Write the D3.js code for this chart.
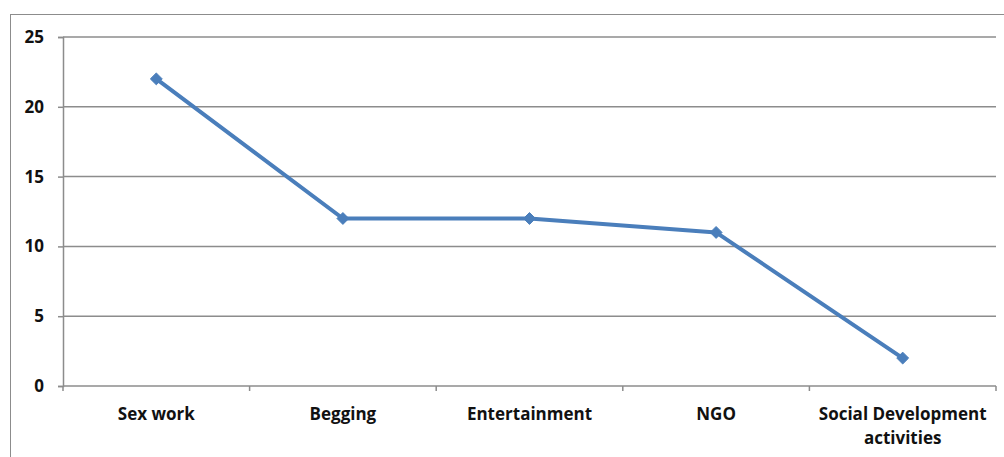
<!DOCTYPE html>
<html>
<head>
<meta charset="utf-8">
<script src="https://cdn.jsdelivr.net/npm/d3@7"></script>
<style>
  html, body { margin: 0; padding: 0; background: #fff; }
  svg { display: block; }
</style>
</head>
<body>
<svg id="chart" width="1004" height="457"></svg>
<script>
// Activity categories and their counts
const categories = ["Sex work", "Begging", "Entertainment", "NGO", "Social Development activities"];
const values = [22, 12, 12, 11, 2];
const yTicks = [0, 5, 10, 15, 20, 25];

const W = 1004, H = 457;
const margin = { left: 63, right: 8, top: 37, bottom: 71 };
const plotRight = W - margin.right;
const plotBottom = H - margin.bottom;

const svg = d3.select("#chart");
const font = "'Open Sans', 'Liberation Sans', Arial, sans-serif";

// outer chart frame
svg.append("rect")
  .attr("x", 10.5).attr("y", 14.5)
  .attr("width", 1010).attr("height", 460)
  .attr("fill", "none").attr("stroke", "#8c8c8c").attr("stroke-width", 1);

const x = d3.scaleBand().domain(categories).range([margin.left, plotRight]).padding(0);
const y = d3.scaleLinear().domain([0, 25]).range([plotBottom, margin.top]);

// horizontal gridlines
svg.append("g").selectAll("line").data(yTicks.filter(d => d > 0)).join("line")
  .attr("x1", margin.left).attr("x2", plotRight)
  .attr("y1", d => y(d)).attr("y2", d => y(d))
  .attr("stroke", "#8c8c8c").attr("stroke-width", 1.5);

// y axis
const yAxis = svg.append("g").attr("transform", `translate(${margin.left},0)`)
  .call(d3.axisLeft(y).tickValues(yTicks).tickSize(5).tickPadding(14));
yAxis.select(".domain").attr("stroke", "#8c8c8c").attr("stroke-width", 1.5);
yAxis.selectAll(".tick line").attr("stroke", "#8c8c8c").attr("stroke-width", 1.5);
yAxis.selectAll(".tick text")
  .attr("font-family", font).attr("font-size", 17).attr("font-weight", "bold").attr("fill", "#111");

// x axis with ticks at band edges
const xAxisG = svg.append("g");
xAxisG.append("line")
  .attr("x1", margin.left).attr("x2", plotRight)
  .attr("y1", plotBottom).attr("y2", plotBottom)
  .attr("stroke", "#8c8c8c").attr("stroke-width", 1.5);
const edges = categories.map(c => x(c)).concat([plotRight]);
xAxisG.selectAll("line.tk").data(edges).join("line").attr("class", "tk")
  .attr("x1", d => d).attr("x2", d => d)
  .attr("y1", plotBottom).attr("y2", plotBottom + 5)
  .attr("stroke", "#8c8c8c").attr("stroke-width", 1.5);

// category labels, wrapped when long
const labelLines = c => c === "Social Development activities" ? ["Social Development", "activities"] : [c];
xAxisG.selectAll("text.cat").data(categories).join("text").attr("class", "cat")
  .attr("x", d => x(d) + x.bandwidth() / 2)
  .attr("y", plotBottom + 34)
  .attr("text-anchor", "middle")
  .attr("font-family", font).attr("font-size", 17).attr("font-weight", "bold").attr("fill", "#111")
  .each(function(d) {
    const t = d3.select(this);
    labelLines(d).forEach((ln, i) => {
      t.append("tspan").attr("x", x(d) + x.bandwidth() / 2).attr("dy", i === 0 ? 0 : 24).text(ln);
    });
  });

// series line
const pts = categories.map((c, i) => [x(c) + x.bandwidth() / 2, y(values[i])]);
svg.append("path")
  .attr("d", d3.line()(pts))
  .attr("fill", "none").attr("stroke", "#4a7ebb").attr("stroke-width", 4)
  .attr("stroke-linejoin", "round");

// diamond markers
svg.append("g").selectAll("path").data(pts).join("path")
  .attr("transform", d => `translate(${d[0]},${d[1]})`)
  .attr("d", d3.symbol().type(d3.symbolDiamond2).size(90))
  .attr("fill", "#4a7ebb").attr("stroke", "#4a7ebb").attr("stroke-width", 1);
</script>
</body>
</html>
